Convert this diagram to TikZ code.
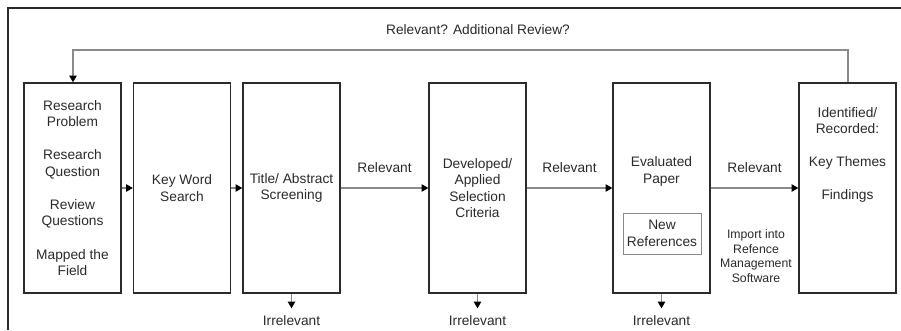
\documentclass[tikz,border=0pt]{standalone}
\usepackage{fontspec}
\setmainfont{Liberation Sans}
\usetikzlibrary{arrows.meta}
\definecolor{ink}{HTML}{2B2B2B}
\definecolor{wire}{HTML}{8A8A8A}
\begin{document}
\begin{tikzpicture}[x=0.75pt,y=-0.75pt,
  every node/.style={text=ink, font=\fontsize{10.3}{12.4}\selectfont, align=center, inner sep=0pt},
  stage/.style={draw=ink, line width=1pt, minimum width=72.75pt, minimum height=157.5pt},
  subbox/.style={draw=wire, line width=0.7pt, minimum width=58.5pt, minimum height=30.75pt},
  flow/.style={draw=wire, line width=0.9pt, -{Triangle[length=5pt,width=5.5pt,color=black]}},
  note/.style={font=\fontsize{9.2}{11}\selectfont}]
  % canvas and outer frame
  \useasboundingbox (0,0) rectangle (901,330);
  \fill[white] (0,0) rectangle (901,330);
  \draw[ink, line width=0.9pt] (8,330) -- (8,8) -- (901,8);

  % process stages
  \node[stage] (s1) at (72.5,188) {Research\\Problem\\[12.4pt]Research\\Question\\[12.4pt]Review\\Questions\\[12.4pt]Mapped the\\Field};
  \node[stage] (s2) at (182,188) {Key Word\\Search};
  \node[stage] (s3) at (291.5,188) {Title/ Abstract\\Screening};
  \node[stage] (s4) at (477.5,188) {Developed/\\Applied\\Selection\\Criteria};
  \node[stage] (s5) at (661.5,188) {};
  \node[stage] (s6) at (847.5,188) {};

  % stage texts placed off-centre
  \node (t5) at (661.5,171.5) {Evaluated\\Paper};
  \node[subbox] (newref) at (662,233.5) {New\\References};
  \node (t6) at (847.5,155) {Identified/\\Recorded:\\[12.4pt]Key Themes\\[12.4pt]Findings};

  % forward flow
  \draw[flow] (s1.east) -- (s2.west);
  \draw[flow] (s2.east) -- (s3.west);
  \draw[flow] (s3.east) -- node[above=11pt] (r1) {Relevant} (s4.west);
  \draw[flow] (s4.east) -- node[above=11pt] (r2) {Relevant} (s5.west);
  \draw[flow] (s5.east) -- node[above=11pt] (r3) {Relevant} (s6.west);
  \node[note] (imp) at (756,256) {Import into\\Refence\\Management\\Software};

  % feedback loop
  \coordinate (up) at (848,50);
  \coordinate (back) at (73,50);
  \draw[flow] (s6.north -| up) -- (up) -- (back) -- (back |- s1.north);
  \node (loop) at (478,30) {Relevant? Additional Review?};

  % rejected items
  \foreach \s in {s3,s4,s5} {
    \coordinate (\s-out) at ([yshift=-11pt]\s.south);
    \draw[flow] (\s.south) -- (\s-out);
    \node[anchor=base] (\s-irr) at ([yshift=-23.5pt]\s.south) {Irrelevant};
  }
\end{tikzpicture}
\end{document}
